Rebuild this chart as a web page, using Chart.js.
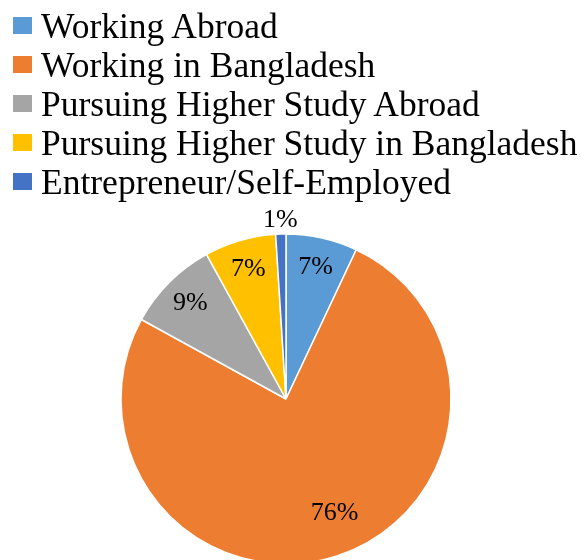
<!DOCTYPE html>
<html>
<head>
<meta charset="utf-8">
<script src="https://cdn.jsdelivr.net/npm/chart.js@4.4.1/dist/chart.umd.min.js"></script>
<style>
  html, body { margin: 0; padding: 0; background: #fff; overflow: hidden; }
  #wrap { position: relative; width: 581px; height: 600px; }
  #legend { position: absolute; left: 13px; top: 6px; font-family: "Liberation Serif", "Times New Roman", serif; font-size: 35.5px; color: #000; }
  .row { display: flex; align-items: center; height: 39px; white-space: nowrap; }
  .box { width: 19px; height: 17px; margin-right: 9px; flex: none; }
</style>
</head>
<body>
<div id="wrap">
  <canvas id="pieChart" width="581" height="600"></canvas>
  <div id="legend"></div>
</div>
<script>
const categories = ["Working Abroad", "Working in Bangladesh", "Pursuing Higher Study Abroad", "Pursuing Higher Study in Bangladesh", "Entrepreneur/Self-Employed"];
const shares = [7, 76, 9, 7, 1];
const colors = ["#5B9BD5", "#ED7D31", "#A5A5A5", "#FFC000", "#4472C4"];

// legend
const legendEl = document.getElementById("legend");
categories.forEach((name, i) => {
  const row = document.createElement("div");
  row.className = "row";
  row.innerHTML = '<span class="box" style="background:' + colors[i] + '"></span><span>' + name + '</span>';
  legendEl.appendChild(row);
});

// percent labels on the slices
const sliceLabels = {
  id: "sliceLabels",
  afterDatasetsDraw(chart) {
    const ctx = chart.ctx;
    const meta = chart.getDatasetMeta(0);
    ctx.save();
    ctx.font = '26px "Liberation Serif", "Times New Roman", serif';
    ctx.fillStyle = "#000";
    ctx.textAlign = "center";
    ctx.textBaseline = "middle";
    meta.data.forEach((arc, i) => {
      const p = arc.getProps(["x", "y", "startAngle", "endAngle", "outerRadius"], true);
      let mid = (p.startAngle + p.endAngle) / 2;
      let r = p.outerRadius * 0.82;
      if (shares[i] < 3) r = p.outerRadius * 1.085;
      if (shares[i] > 50) { r = p.outerRadius * 0.75; mid -= 0.09; }
      ctx.fillText(shares[i] + "%", p.x + Math.cos(mid) * r, p.y + Math.sin(mid) * r);
    });
    ctx.restore();
  }
};

new Chart(document.getElementById("pieChart"), {
  type: "pie",
  data: {
    labels: categories,
    datasets: [{
      data: shares,
      backgroundColor: colors,
      borderColor: "#fff",
      borderWidth: 1.5,
      radius: 165
    }]
  },
  options: {
    responsive: false,
    animation: false,
    layout: { padding: { top: 204, bottom: 6, left: 4, right: 13 } },
    plugins: {
      legend: { display: false },
      tooltip: { enabled: false }
    }
  },
  plugins: [sliceLabels]
});
</script>
</body>
</html>
